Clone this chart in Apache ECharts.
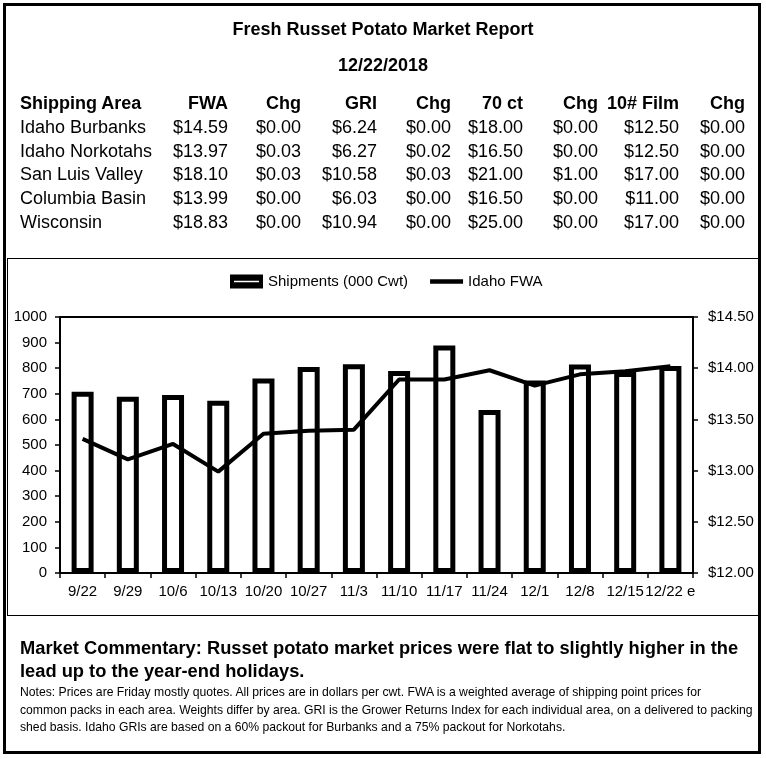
<!DOCTYPE html>
<html>
<head>
<meta charset="utf-8">
<script src="https://cdn.jsdelivr.net/npm/echarts@6/dist/echarts.min.js"></script>
<style>
  html, body { margin: 0; padding: 0; background: #fff; }
  #page { position: relative; width: 766px; height: 759px; overflow: hidden;
          font-family: "Liberation Sans", Arial, sans-serif; color: #000; }
  #chart { position: absolute; left: 0; top: 0; width: 766px; height: 759px; }
  .box { position: absolute; box-sizing: border-box; pointer-events: none; }
  .t { position: absolute; white-space: nowrap; height: 24px; line-height: 24px; font-size: 18px; }
  .c { font-size: 18.3px; }
  .b { font-weight: bold; }
  .r { text-align: right; }
  .note { position: absolute; left: 20px; white-space: nowrap; font-size: 12.2px; height: 18px; line-height: 18px; }
</style>
</head>
<body>
<div id="page">
  <div id="chart"></div>
  <div class="box" style="left:3px;top:3px;width:758px;height:751px;border:3px solid #000;"></div>
  <div class="box" style="left:7px;top:258px;width:753px;height:358px;border:1.5px solid #000;"></div>
  <div id="texts"></div>
</div>
<script>
// ---------- data ----------
const reportTitle = 'Fresh Russet Potato Market Report';
const reportDate = '12/22/2018';
const tableHeaders = ['Shipping Area', 'FWA', 'Chg', 'GRI', 'Chg', '70 ct', 'Chg', '10# Film', 'Chg'];
const areas = ['Idaho Burbanks', 'Idaho Norkotahs', 'San Luis Valley', 'Columbia Basin', 'Wisconsin'];
const fwa = [14.59, 13.97, 18.10, 13.99, 18.83];
const fwaChg = [0.00, 0.03, 0.03, 0.00, 0.00];
const gri = [6.24, 6.27, 10.58, 6.03, 10.94];
const griChg = [0.00, 0.02, 0.03, 0.00, 0.00];
const ct70 = [18.00, 16.50, 21.00, 16.50, 25.00];
const ct70Chg = [0.00, 0.00, 1.00, 0.00, 0.00];
const film10 = [12.50, 12.50, 17.00, 11.00, 17.00];
const film10Chg = [0.00, 0.00, 0.00, 0.00, 0.00];

const weeks = ['9/22', '9/29', '10/6', '10/13', '10/20', '10/27', '11/3', '11/10', '11/17', '11/24', '12/1', '12/8', '12/15', '12/22 e'];
const shipments = [708, 688, 695, 673, 760, 805, 815, 789, 889, 637, 752, 814, 785, 809];
const idahoFwa = [13.31, 13.11, 13.26, 12.99, 13.36, 13.39, 13.40, 13.89, 13.89, 13.98, 13.83, 13.94, 13.97, 14.02];
const leftTicks = { min: 0, max: 1000, step: 100 };
const rightTicks = { min: 12, max: 14.5, step: 0.5 };

const commentary = [
  'Market Commentary: Russet potato market prices were flat to slightly higher in the',
  'lead up to the year-end holidays.'
];
const notes = [
  'Notes: Prices are Friday mostly quotes. All prices are in dollars per cwt. FWA is a weighted average of shipping point prices for',
  'common packs in each area. Weights differ by area. GRI is the Grower Returns Index for each individual area, on a delivered to packing',
  'shed basis. Idaho GRIs are based on a 60% packout for Burbanks and a 75% packout for Norkotahs.'
];

// ---------- text layout ----------
const T = document.getElementById('texts');
function addText(txt, opts) {
  const d = document.createElement('div');
  d.className = opts.cls || 't';
  d.textContent = txt;
  Object.assign(d.style, opts.style || {});
  T.appendChild(d);
  return d;
}
const money = v => '$' + v.toFixed(2);
addText(reportTitle, { cls: 't b', style: { left: '0px', width: '766px', textAlign: 'center', top: (29 - 12) + 'px' } });
addText(reportDate, { cls: 't b', style: { left: '0px', width: '766px', textAlign: 'center', top: (65 - 12) + 'px' } });

const colRight = [null, 228, 301, 377, 451, 523, 598, 679, 745];
const rowY0 = 103, rowStep = 23.8;
tableHeaders.forEach((h, c) => {
  if (c === 0) addText(h, { cls: 't b', style: { left: '20px', top: (rowY0 - 12) + 'px' } });
  else addText(h, { cls: 't b r', style: { left: (colRight[c] - 120) + 'px', width: '120px', top: (rowY0 - 12) + 'px' } });
});
const cols = [fwa, fwaChg, gri, griChg, ct70, ct70Chg, film10, film10Chg];
areas.forEach((a, i) => {
  const y = rowY0 + (i + 1) * rowStep;
  addText(a, { style: { left: '20px', top: (y - 12) + 'px' } });
  cols.forEach((arr, c) => {
    addText(money(arr[i]), { cls: 't r', style: { left: (colRight[c + 1] - 120) + 'px', width: '120px', top: (y - 12) + 'px' } });
  });
});

addText(commentary[0], { cls: 't b c', style: { left: '20px', top: (648 - 12) + 'px' } });
addText(commentary[1], { cls: 't b c', style: { left: '20px', top: (671 - 12) + 'px' } });
notes.forEach((n, i) => {
  addText(n, { cls: 'note', style: { top: (692 + i * 17.5 - 9) + 'px' } });
});

// ---------- chart ----------
const chart = echarts.init(document.getElementById('chart'), null, { renderer: 'canvas' });
const axisCol = '#000';
const option = {
  animation: false,
  textStyle: { fontFamily: '"Liberation Sans", Arial, sans-serif' },
  legend: {
    left: 225, top: 269, itemGap: 22, itemWidth: 33, itemHeight: 14,
    textStyle: { fontSize: 15, color: '#000' },
    data: [
      { name: 'Shipments (000 Cwt)', icon: 'path://M0,0H33V14H0Z M4,6.2V7.8H29V6.2Z', itemStyle: { color: '#000', borderWidth: 0 } },
      { name: 'Idaho FWA', icon: 'path://M0,0H36V5H0Z', itemStyle: { color: '#000', borderWidth: 0 } }
    ]
  },
  grid: { left: 60, right: 73, top: 317, bottom: 186, show: true, borderColor: '#000', borderWidth: 2, backgroundColor: 'transparent' },
  xAxis: {
    type: 'category', data: weeks, boundaryGap: true,
    axisLine: { lineStyle: { color: axisCol, width: 2 } },
    axisTick: { show: true, length: 5, lineStyle: { color: axisCol, width: 1.5 } },
    axisLabel: { color: '#000', fontSize: 15, margin: 11, interval: 0 }
  },
  yAxis: [
    {
      type: 'value', min: leftTicks.min, max: leftTicks.max, interval: leftTicks.step,
      axisLine: { show: true, lineStyle: { color: axisCol, width: 2 } },
      axisTick: { show: true, length: 5, lineStyle: { color: axisCol, width: 1.5 } },
      splitLine: { show: false },
      axisLabel: { color: '#000', fontSize: 15, margin: 13, formatter: v => String(v) }
    },
    {
      type: 'value', position: 'right', min: rightTicks.min, max: rightTicks.max, interval: rightTicks.step,
      axisLine: { show: true, lineStyle: { color: axisCol, width: 2 } },
      axisTick: { show: true, length: 5, lineStyle: { color: axisCol, width: 1.5 } },
      splitLine: { show: false },
      axisLabel: { color: '#000', fontSize: 15, margin: 15, formatter: v => '$' + v.toFixed(2) }
    }
  ],
  series: [
    {
      name: 'Shipments (000 Cwt)', type: 'bar', data: shipments, barWidth: 22,
      itemStyle: { color: '#fff', borderColor: '#000', borderWidth: 5 }
    },
    {
      name: 'Idaho FWA', type: 'line', yAxisIndex: 1, data: idahoFwa, symbol: 'none', showSymbol: false,
      lineStyle: { color: '#000', width: 4 }, itemStyle: { color: '#000' }, z: 5
    }
  ]
};
chart.setOption(option);
</script>
</body>
</html>
